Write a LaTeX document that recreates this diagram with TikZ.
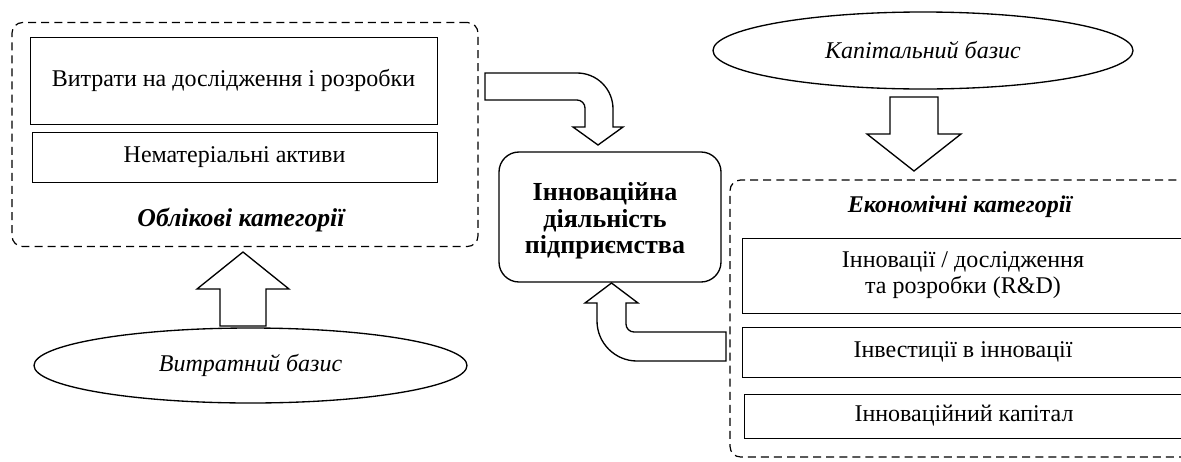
\documentclass[tikz,border=0pt]{standalone}
\usepackage{fontspec}
\setmainfont{Liberation Serif}
\usetikzlibrary{shapes.geometric}
\newdimen\PX \PX=0.75pt
\newcommand{\fs}{\fontsize{18}{19.5}\selectfont}
\newcommand{\fb}{\fontsize{19.5}{20}\selectfont}
\tikzset{
  rbox/.style={draw, line width=0.6pt, inner sep=0pt, outer sep=0pt, align=center, font=\fs},
  dbox/.style={draw, line width=0.9pt, dash pattern=on 6pt off 3.8pt, rounded corners=8pt, inner sep=0pt, outer sep=0pt},
  ell/.style={draw, ellipse, line width=1pt, inner sep=0pt, outer sep=0pt, font=\fs\itshape},
  cbox/.style={draw, line width=1pt, rounded corners=15pt, inner sep=0pt, outer sep=0pt, align=center, font=\fs\bfseries},
  lab/.style={inner sep=0pt, font=\fs\bfseries\itshape},
  barrow/.style={draw, line width=1pt, fill=white, line join=miter},
}
\begin{document}
\begin{tikzpicture}[x=0.75pt, y=-0.75pt]
\useasboundingbox (0,0) rectangle (1181,461);
\clip (0,0) rectangle (1181,461);
% left group
\node (lcat) [dbox, minimum width=466\PX, minimum height=224\PX] at (245,134.5) {};
\node (b1) [rbox, minimum width=407\PX, minimum height=87\PX] at (233.5,80.5) {Витрати на дослідження і розробки};
\node (b2) [rbox, minimum width=405\PX, minimum height=50\PX] at (234.5,157) {Нематеріальні активи};
\node (llab) [lab, font=\fontsize{19.3}{20}\selectfont\bfseries\itshape] at (241,220) {Облікові категорії};
\node (e1) [ell, minimum width=433\PX, minimum height=75\PX] at (250.5,365.5) {Витратний базис};
% centre
\node (c) [cbox, minimum width=222\PX, minimum height=130\PX] at (610,217) {};
\node (ctext) [font=\fb\bfseries, align=center, inner sep=0pt] at (605,221) {Інноваційна\\діяльність\\підприємства};
% right group
\node (e2) [ell, minimum width=420\PX, minimum height=77\PX] at (923,50.5) {Капітальний базис};
\node (rcat) [dbox, minimum width=470\PX, minimum height=277\PX] at (965,318.5) {};
\node (rlab) [lab] at (960,207) {Економічні категорії};
\node (r1) [rbox, minimum width=442\PX, minimum height=75\PX] at (963,275.5) {Інновації / дослідження\\та розробки (R\&D)};
\node (r2) [rbox, minimum width=442\PX, minimum height=50\PX] at (963,352) {Інвестиції в інновації};
\node (r3) [rbox, minimum width=440\PX, minimum height=44\PX] at (964,416) {Інноваційний капітал};
% block arrows
% up arrow: Витратний базис -> Облікові категорії
\draw[barrow] (220,326) -- (220,289) -- (197,289) -- (243,252) -- (289,289) -- (266,289) -- (266,326) -- cycle;
% down arrow: Капітальний базис -> Економічні категорії
\draw[barrow] (890,97) -- (938,97) -- (938,134) -- (961,134) -- (914,171) -- (867,134) -- (890,134) -- cycle;
% curved arrow: Облікові категорії -> centre
\draw[barrow] (485,73) -- (577,73) .. controls (597,73) and (613,89) .. (613,109) -- (613,127) -- (623,127) -- (598,145) -- (573,127) -- (585,127) -- (585,108) .. controls (585,103.6) and (581.4,100) .. (577,100) -- (485,100) -- cycle;
% curved arrow: Економічні категорії -> centre
\draw[barrow] (726,332) -- (634,332) .. controls (629.6,332) and (626,328.4) .. (626,324) -- (626,303) -- (638,303) -- (611.5,283) -- (585,303) -- (597,303) -- (597,321) .. controls (597,343) and (615,361) .. (637,361) -- (726,361) -- cycle;
\end{tikzpicture}
\end{document}
